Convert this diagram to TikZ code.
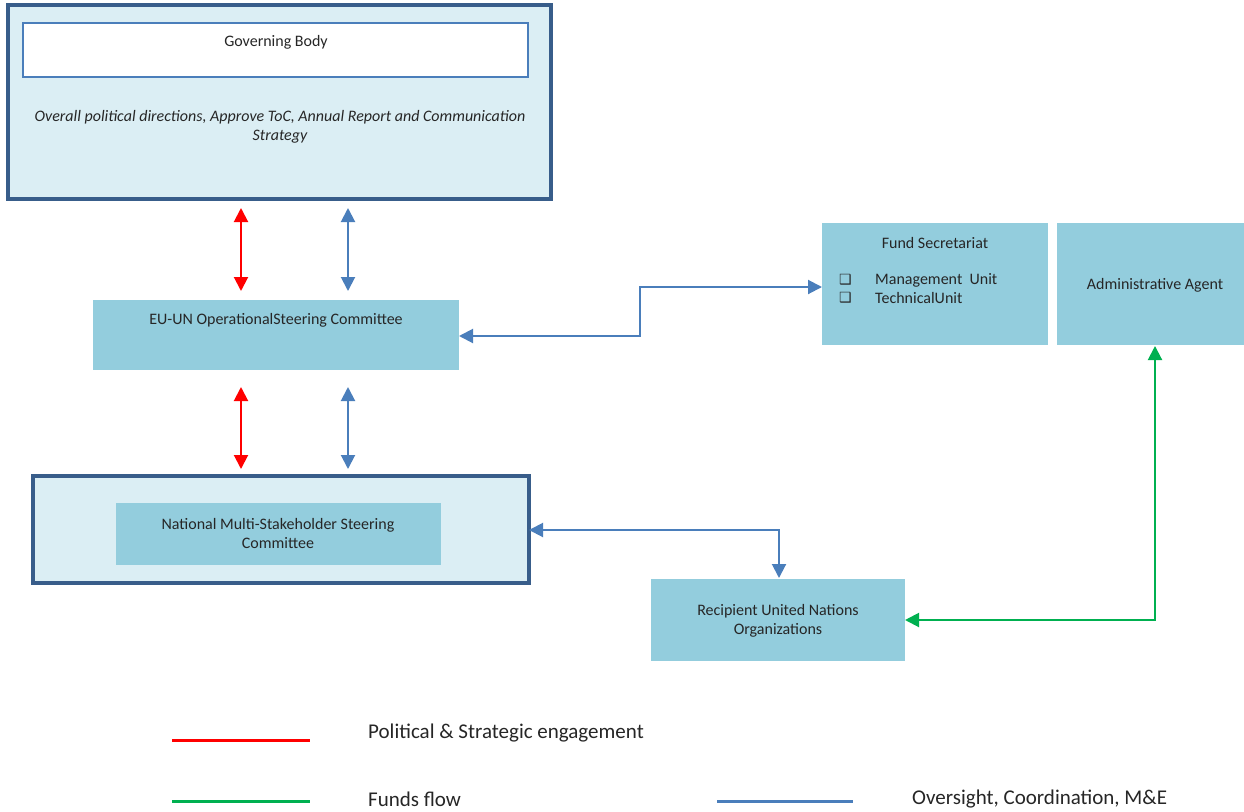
\documentclass[tikz,border=0pt]{standalone}
\usepackage{fontspec}
\setmainfont{Carlito}
\newfontfamily\symfont{DejaVu Sans}
\usetikzlibrary{arrows.meta}
\definecolor{lightfill}{HTML}{DBEEF4}
\definecolor{midfill}{HTML}{93CDDD}
\definecolor{darkborder}{HTML}{385D8A}
\definecolor{blueline}{HTML}{4A7EBB}
\definecolor{redline}{HTML}{FF0000}
\definecolor{greenline}{HTML}{00B050}
\tikzset{
  x=1pt, y=-1pt,
  outerbox/.style={draw=darkborder, line width=4pt, fill=lightfill},
  midbox/.style={fill=midfill, draw=none},
  whitebox/.style={draw=blueline, line width=1.5pt, fill=white},
  txt/.style={font=\fontsize{16}{19}\selectfont, text=black!85, align=center, inner sep=0pt},
  legtxt/.style={font=\fontsize{21}{24}\selectfont, text=black!85, anchor=west, inner sep=0pt},
  arr/.style={line width=2pt, {Triangle[width=14pt,length=14pt]}-{Triangle[width=14pt,length=14pt]}},
  redarr/.style={arr, draw=redline},
  bluearr/.style={arr, draw=blueline},
  greenarr/.style={arr, draw=greenline},
  legline/.style={line width=3pt},
  bullet/.style={txt, anchor=west, font=\symfont\fontsize{14}{16}\selectfont},
}
\begin{document}
\begin{tikzpicture}
\useasboundingbox (0,0) rectangle (1244,811);
% Governing body
\draw[outerbox] (8,5) rectangle (551,199);
\draw[whitebox] (23,23) rectangle (528,77);
\node[txt] (gb) at (276,42) {Governing Body};
\node[txt, font=\fontsize{16}{19}\selectfont\itshape] (gbdesc) at (280,127) {Overall political directions, Approve ToC, Annual Report and Communication\\Strategy};
% EU-UN
\fill[midfill] (93,300) rectangle (459,370);
\node[txt] (eu) at (276,320) {EU-UN OperationalSteering Committee};
\coordinate (euR) at (459,336);
% National
\draw[outerbox] (33,476) rectangle (529,583);
\fill[midfill] (116,503) rectangle (441,565);
\node[txt] (nat) at (278,533) {National Multi-Stakeholder Steering\\Committee};
\coordinate (natR) at (529,530);
% Fund Secretariat
\fill[midfill] (822,223) rectangle (1048,345);
\node[txt] (fs) at (935,243) {Fund Secretariat};
\node[bullet] (b1) at (839,280) {❑};
\node[bullet] (b2) at (839,298) {❑};
\node[txt, anchor=west] (mu) at (875,280) {Management\ \ Unit};
\node[txt, anchor=west] (tu) at (875,298) {TechnicalUnit};
\coordinate (fsL) at (822,287);
% Administrative agent
\fill[midfill] (1057,223) rectangle (1244,345);
\node[txt] (aa) at (1155,285) {Administrative Agent};
\coordinate (aaB) at (1155,346);
% Recipient
\fill[midfill] (651,579) rectangle (905,661);
\node[txt] (ru) at (778,621) {Recipient United Nations\\Organizations};
\coordinate (ruT) at (779,578);
\coordinate (ruR) at (905,620);
% vertical arrows
\coordinate (r1a) at (241,208); \coordinate (r1b) at (241,291);
\coordinate (b1a) at (348,208); \coordinate (b1b) at (348,291);
\coordinate (r2a) at (241,387); \coordinate (r2b) at (241,469);
\coordinate (b2a) at (348,387); \coordinate (b2b) at (348,469);
\draw[redarr] (r1a) -- (r1b);
\draw[bluearr] (b1a) -- (b1b);
\draw[redarr] (r2a) -- (r2b);
\draw[bluearr] (b2a) -- (b2b);
% elbow connectors
\draw[bluearr] (euR) -- (640,336) -- (640,287) -- (fsL);
\draw[bluearr] (natR) -- (779,530) -- (ruT);
\draw[greenarr] (aaB) -- (1155,620) -- (ruR);
% legend
\coordinate (l1a) at (172,740); \coordinate (l1b) at (310,740);
\coordinate (l2a) at (172,801); \coordinate (l2b) at (310,801);
\coordinate (l3a) at (717,801); \coordinate (l3b) at (853,801);
\draw[legline, draw=redline] (l1a) -- (l1b);
\draw[legline, draw=greenline] (l2a) -- (l2b);
\draw[legline, draw=blueline] (l3a) -- (l3b);
\node[legtxt] (lt1) at (368,733) {Political \& Strategic engagement};
\node[legtxt] (lt2) at (368,799) {Funds flow};
\node[legtxt] (lt3) at (912,799) {Oversight, Coordination, M\&E};
\end{tikzpicture}
\end{document}
